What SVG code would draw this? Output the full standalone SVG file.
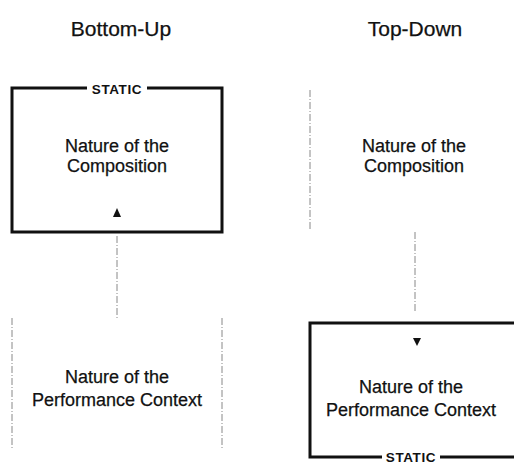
<svg xmlns="http://www.w3.org/2000/svg" width="514" height="464" viewBox="0 0 514 464">
<style>
.t{font-family:"Liberation Sans",Arial,sans-serif;fill:#111;text-anchor:middle;stroke:#111;stroke-width:0.25}
.title{font-size:21px}
.lbl{font-size:18px}
.st{font-size:13.5px;font-weight:bold;letter-spacing:0.6px;stroke-width:0}
.box{fill:none;stroke:#111;stroke-width:3}
.dash{fill:none;stroke:#888;stroke-width:1;stroke-dasharray:7 2 1 2}
.arr{fill:#111}
</style>
<rect width="514" height="464" fill="#fff"/>
<text class="t title" x="121" y="36">Bottom-Up</text>
<text class="t title" x="415" y="36">Top-Down</text>

<g id="bu-composition">
<path class="box" d="M87,88 H12 V232 H222 V88 H147"/>
<text class="t st" x="117" y="93.5">STATIC</text>
<text class="t lbl" x="117" y="152">Nature of the</text>
<text class="t lbl" x="117" y="172">Composition</text>
<polygon class="arr" points="113,217 121,217 117,208"/>
</g>

<g id="bu-context">
<line class="dash" x1="12" y1="318" x2="12" y2="448"/>
<line class="dash" x1="222" y1="318" x2="222" y2="448"/>
<text class="t lbl" x="117" y="383">Nature of the</text>
<text class="t lbl" x="117" y="406">Performance Context</text>
</g>

<g id="td-composition">
<line class="dash" x1="310" y1="90" x2="310" y2="230"/>
<text class="t lbl" x="414" y="152">Nature of the</text>
<text class="t lbl" x="414" y="172">Composition</text>
</g>

<g id="td-context">
<path class="box" d="M382,457 H310 V323 H520 M440,457 H520"/>
<text class="t st" x="411" y="462">STATIC</text>
<text class="t lbl" x="411" y="393">Nature of the</text>
<text class="t lbl" x="411" y="416">Performance Context</text>
<polygon class="arr" points="413,338 421,338 417,346"/>
</g>

<g id="connectors">
<line class="dash" x1="117" y1="236" x2="117" y2="320"/>
<line class="dash" x1="415" y1="232" x2="415" y2="312"/>
</g>
</svg>
